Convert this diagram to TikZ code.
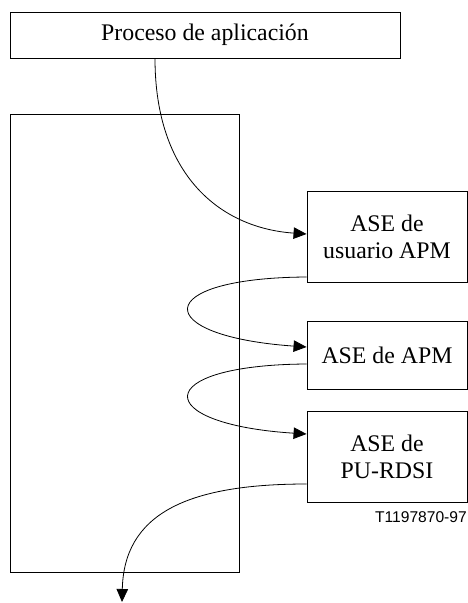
\documentclass[tikz,border=0pt]{standalone}
\usepackage{fontspec}
\setmainfont{Liberation Serif}
\newfontfamily\labelfont{Liberation Sans}
\usetikzlibrary{arrows.meta}
\begin{document}
\begin{tikzpicture}[x=1pt,y=-1pt,
  box/.style={draw,line width=0.9pt,inner sep=0pt,align=center,font=\fontsize{23.8}{27}\selectfont},
  conn/.style={line width=0.8pt},
  arr/.style={conn,-{Triangle[length=13pt,width=11.5pt]}}]
\useasboundingbox (0,0) rectangle (468,603);
\node[box,minimum width=390pt,minimum height=46pt] (top) at (205,35) {Proceso de aplicación};
\node[box,minimum width=229pt,minimum height=458pt] (big) at (124.5,343) {};
\node[box,minimum width=160pt,minimum height=91pt] (ase1) at (387,236.5) {ASE de\\usuario APM};
\node[box,minimum width=160pt,minimum height=68pt] (ase2) at (387,355) {ASE de APM};
\node[box,minimum width=160pt,minimum height=91pt] (ase3) at (387,456.5) {ASE de\\PU-RDSI};
\node[anchor=east,inner sep=0pt,font=\labelfont\fontsize{15.6}{18}\selectfont] (code) at (467,517) {T1197870-97};
\coordinate (exitpt) at (122,602);
\draw[arr] (top.south -| 155,0) .. controls (155,175) and (220,228) .. ([yshift=2.5pt]ase1.west);
\draw[arr] ([yshift=-40.5pt]ase1.west) .. controls (150,278) and (150,336) .. ([yshift=8pt]ase2.west);
\draw[arr] ([yshift=-9pt]ase2.west) .. controls (150,365) and (150,424) .. ([yshift=22.5pt]ase3.west);
\draw[arr] ([yshift=-27.5pt]ase3.west) .. controls (185,484) and (124,515) .. (exitpt);
\end{tikzpicture}
\end{document}
